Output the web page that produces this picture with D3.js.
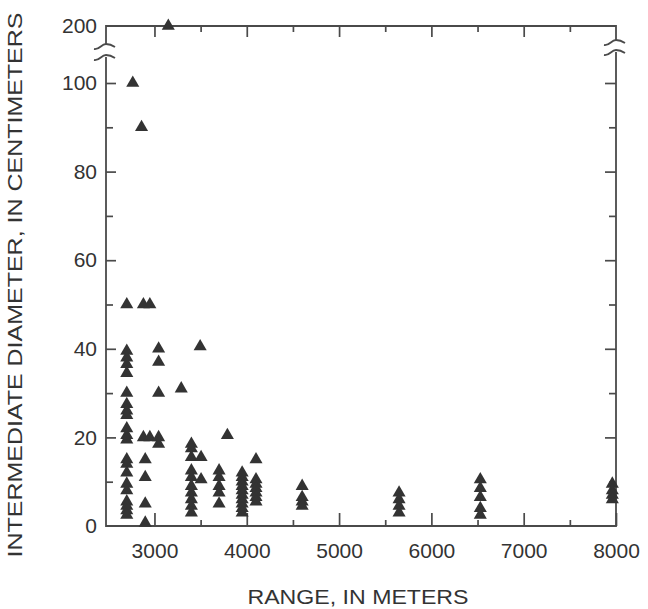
<!DOCTYPE html>
<html><head><meta charset="utf-8">
<script src="https://cdn.jsdelivr.net/npm/d3@7"></script>
<style>body{margin:0;background:#fff}svg{display:block}</style>
</head><body>
<svg id="c" width="648" height="609"></svg>
<script>
// Range (m) of each point and intermediate diameter (cm)
const rangeM = [
  2700,2700,2700,2700,2700,2700,2700,2700,2700,2700,2700,2700,2700,2700,2700,2700,2700,2700,2700,2700,2700,
  2765,2860,2880,2880,2950,2950,
  2900,2900,2900,2900,
  3045,3045,3045,3045,3045,
  3150,3290,
  3400,3400,3400,3400,3400,3400,3400,3400,3400,3400,
  3495,3505,3505,
  3700,3700,3700,3700,3700,3790,
  3950,3950,3950,3950,3950,3950,3950,3950,3950,3950,
  4100,4100,4100,4100,4100,4100,4100,
  4600,4600,4600,4600,
  5650,5650,5650,5650,
  6530,6530,6530,6530,6530,
  7960,7960,7960,7960
];
const diameterCm = [
  50,39.5,38,36.5,34.5,30,27.5,26,25,22,20.5,19.5,15,14,12,9.5,8,5.5,4.5,3.5,2.5,
  100,90,50,20,50,20,
  15,11,5,0.7,
  40,37,30,20,18.5,
  200,31,
  18.5,17.5,15.5,12.5,11,9,7.5,6,4.5,3,
  40.5,15.5,10.5,
  12.5,11,9,7.5,5,20.5,
  12,11,10,9,8,7,6,5,4,3,
  15,10.5,9.5,8.5,7.5,6.5,5.5,
  9,6.5,5.5,4.5,
  7.5,6,4.5,3,
  10.5,8.5,6.5,4,2.5,
  9.5,8,7,6
];
const xMajorTicks = [3000,4000,5000,6000,7000,8000];
const xMinorTicks = [3500,4500,5500,6500,7500];
const yMajorTicks = [0,20,40,60,80,100,200];
const yMinorTicks = [10,30,50,70,90];
const xTitle = "RANGE, IN METERS";
const yTitle = "INTERMEDIATE DIAMETER, IN CENTIMETERS";

const svg = d3.select("#c");
const L = 106, R = 616, T = 26, B = 526;
const x = d3.scaleLinear().domain([2475, 8000]).range([L, R]);
const y = d3.scaleLinear().domain([0, 100, 200]).range([B, 83, T]);

const lineCol = "#4a4a4a", textCol = "#333", font = "'Liberation Sans', Arial, sans-serif";

function style(g){
  g.select(".domain").remove();
  g.selectAll(".tick line").attr("stroke", lineCol).attr("stroke-width", 1.7);
  g.selectAll(".tick text").attr("fill", textCol).attr("font-family", font).attr("font-size", 21);
}

// bottom axis
svg.append("g").attr("transform", `translate(0,${B})`)
  .call(d3.axisBottom(x).tickValues(xMajorTicks).tickSize(-13).tickPadding(17).tickFormat(d3.format("d")))
  .call(style);
svg.append("g").attr("transform", `translate(0,${B})`)
  .call(d3.axisBottom(x).tickValues(xMinorTicks).tickSize(-6).tickFormat(""))
  .call(style);
// top axis (ticks only)
svg.append("g").attr("transform", `translate(0,${T})`)
  .call(d3.axisTop(x).tickValues(xMajorTicks.filter(d => d < 8000)).tickSize(-11).tickFormat(""))
  .call(style);
svg.append("g").attr("transform", `translate(0,${T})`)
  .call(d3.axisTop(x).tickValues(xMinorTicks).tickSize(-6).tickFormat(""))
  .call(style);
// left axis
const gl = svg.append("g").attr("transform", `translate(${L},0)`)
  .call(d3.axisLeft(y).tickValues(yMajorTicks).tickSize(-10).tickPadding(9).tickFormat(d3.format("d")))
  .call(style);
gl.selectAll(".tick").filter(d => d === 200 || d === 0).select("line").remove();
svg.append("g").attr("transform", `translate(${L},0)`)
  .call(d3.axisLeft(y).tickValues(yMinorTicks).tickSize(-7).tickFormat(""))
  .call(style);
// right axis (ticks only)
svg.append("g").attr("transform", `translate(${R},0)`)
  .call(d3.axisRight(y).tickValues(yMajorTicks.filter(d => d > 0 && d < 200)).tickSize(-11).tickFormat(""))
  .call(style);
svg.append("g").attr("transform", `translate(${R},0)`)
  .call(d3.axisRight(y).tickValues(yMinorTicks).tickSize(-7).tickFormat(""))
  .call(style);

// frame with axis breaks
const frame = svg.append("g").attr("fill", "none").attr("stroke", lineCol).attr("stroke-width", 1.8);
const brkTop = 44, brkBot = 57;
frame.append("path").attr("d", `M${L},${brkTop} L${L},${T} L${R},${T} L${R},${brkTop - 4}`);
frame.append("path").attr("d", `M${L},${brkBot} L${L},${B} L${R},${B} L${R},${brkBot - 5}`);
function squiggle(cx, cy){
  return `M${cx-12},${cy+3} C${cx-6},${cy+4} ${cx-5},${cy-2} ${cx},${cy-2} C${cx+4},${cy-2} ${cx+6},${cy-1} ${cx+9},${cy+1}`;
}
frame.append("path").attr("d", squiggle(L, brkTop + 2));
frame.append("path").attr("d", squiggle(L, brkBot));
frame.append("path").attr("d", squiggle(R, brkTop - 2));
frame.append("path").attr("d", squiggle(R, brkBot - 5));

// points
const tri = d3.symbol().type(d3.symbolTriangle).size(74);
svg.append("g").selectAll("path").data(rangeM.map((r, i) => [r, diameterCm[i]]))
  .join("path")
  .attr("d", tri)
  .attr("transform", d => `translate(${x(d[0])},${y(d[1])})`)
  .attr("fill", "#333");

// titles
svg.append("text").attr("x", 358).attr("y", 604).attr("text-anchor", "middle")
  .attr("font-family", font).attr("font-size", 20).attr("fill", textCol)
  .attr("textLength", 221).attr("lengthAdjust", "spacingAndGlyphs").text(xTitle);
svg.append("text").attr("transform", "translate(22,285) rotate(-90)").attr("text-anchor", "middle")
  .attr("font-family", font).attr("font-size", 20).attr("fill", textCol)
  .attr("textLength", 545).attr("lengthAdjust", "spacingAndGlyphs").text(yTitle);
</script>
</body></html>
